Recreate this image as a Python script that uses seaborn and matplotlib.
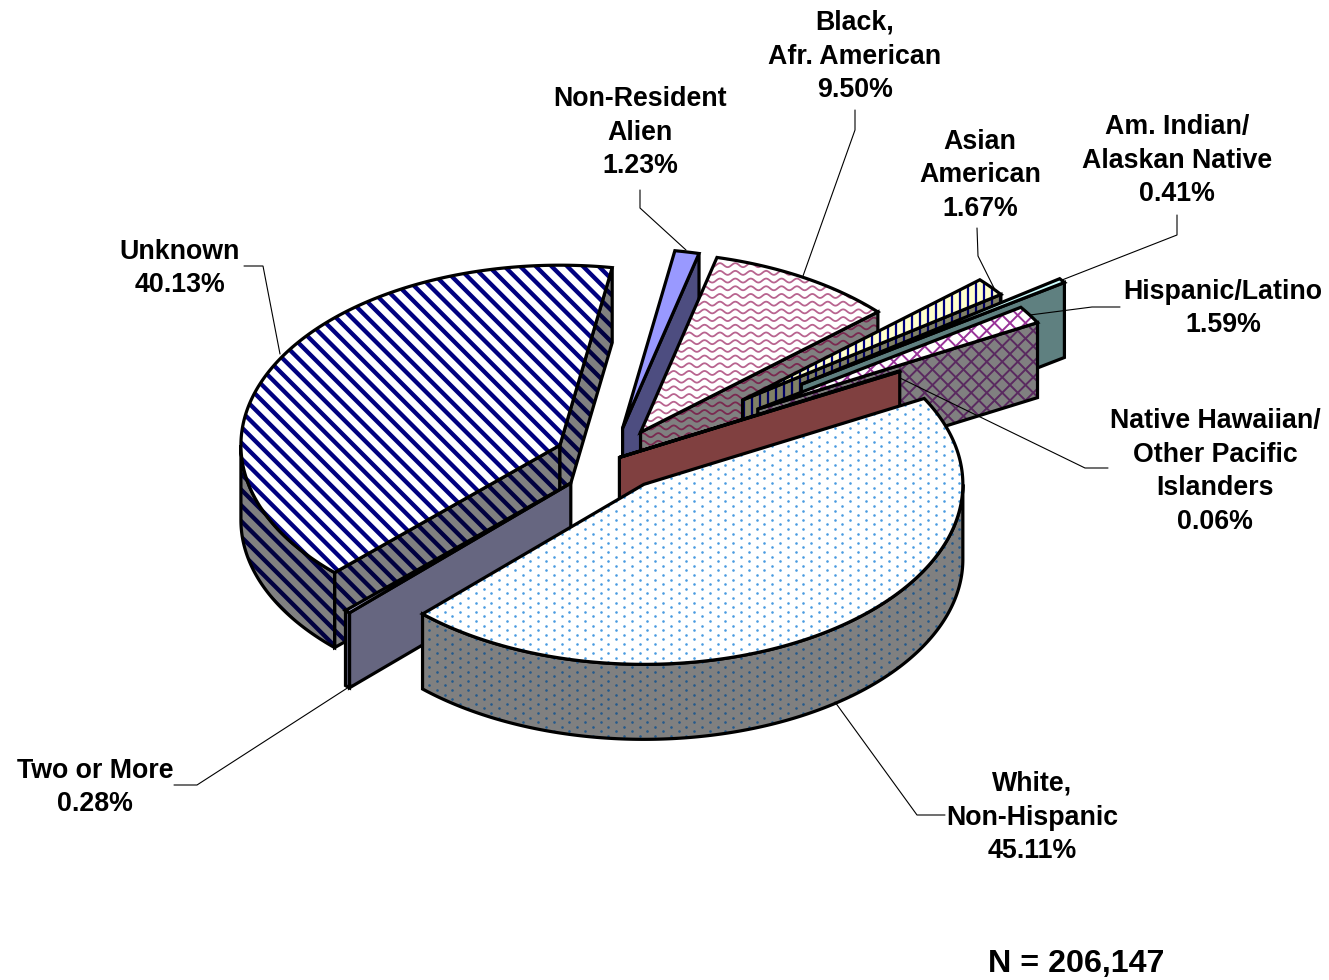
import numpy as np
import matplotlib
matplotlib.use("Agg")
import matplotlib.pyplot as plt
from matplotlib.collections import LineCollection
from matplotlib.patches import Polygon
import seaborn as sns

# ── Data ────────────────────────────────────────────────────────────────────
CATEGORIES = ["White", "Two or More", "Unknown", "Non-Resident", "Black",
              "Asian", "Am. Indian", "Hispanic", "Native Hawaiian"]
SHARES = [45.11, 0.28, 40.13, 1.23, 9.50, 1.67, 0.41, 1.59, 0.06]
SHARE_TOTAL = "N = 206,147"

# ── Style ───────────────────────────────────────────────────────────────────
sns.set_theme(style="white")
plt.rcParams["font.family"] = ["Liberation Sans", "DejaVu Sans"]

WIDTH, HEIGHT = 1329, 980
CENTER = (611, 460)
RX, RY, DEPTH = 319, 180, 75
START_ANGLE = 28.5
EXPLODE = [0.17, 0.18, 0.18, 0.18, 0.18, 0.53, 0.73, 0.54, 0.03]
DRAW_ORDER = ["Non-Resident", "Black", "Asian", "Am. Indian", "Hispanic",
              "Native Hawaiian", "Unknown", "Two or More", "White"]

# top colour, side colour, texture, texture colour, darker texture colour
LOOK = {
    "White":           ("#FFFFFF", "#808080", "dots",   "#4A9BE0", "#245A8C"),
    "Two or More":     ("#CCCCFF", "#666680", None,     None,      None),
    "Unknown":         ("#FFFFFF", "#808080", "stripe", "#000080", "#000040"),
    "Non-Resident":    ("#9999FF", "#4D4D80", None,     None,      None),
    "Black":           ("#FFFFFF", "#808080", "wave",   "#B8648F", "#7A2950"),
    "Asian":           ("#FFFFCC", "#808066", "vert",   "#000080", "#000060"),
    "Am. Indian":      ("#CCFFFF", "#5F8080", None,     None,      None),
    "Hispanic":        ("#FFFFFF", "#808080", "cross",  "#993399", "#5A2A60"),
    "Native Hawaiian": ("#FF8080", "#804040", None,     None,      None),
}

LABELS = [
    ("Black,\nAfr. American\n9.50%", 855, 56.5),
    ("Non-Resident\nAlien\n1.23%", 640, 132.5),
    ("Asian\nAmerican\n1.67%", 980, 175.5),
    ("Am. Indian/\nAlaskan Native\n0.41%", 1177, 160.5),
    ("Hispanic/Latino\n1.59%", 1223, 308.5),
    ("Native Hawaiian/\nOther Pacific\nIslanders\n0.06%", 1215, 471.5),
    ("White,\nNon-Hispanic\n45.11%", 1032, 817.5),
    ("Two or More\n0.28%", 95, 787.5),
    ("Unknown\n40.13%", 180, 268.5),
]

LEADERS = [
    [(244, 266), (263, 266), (280, 354)],
    [(640, 190), (640, 208), (686, 250)],
    [(855, 110), (855, 130), (803, 276)],
    [(977, 228), (978, 256), (994, 288)],
    [(1177, 215), (1177, 235), (1062, 280)],
    [(1120, 307), (1092, 307), (1030, 315)],
    [(1108, 468), (1085, 468), (900, 378)],
    [(945, 815), (917, 815), (835, 702)],
    [(174, 785), (197, 785), (352, 685)],
]

OUTLINE = 2.3


def arc(cx, cy, a0, a1, drop=0):
    t = np.radians(np.linspace(a0, a1, max(int(abs(a0 - a1)) * 2, 2)))
    return np.column_stack([cx + RX * np.cos(t), cy - RY * np.sin(t) + drop])


def add_texture(ax, patch, kind, color, z):
    x0, y0 = patch.get_xy().min(axis=0)
    x1, y1 = patch.get_xy().max(axis=0)
    if kind == "dots":
        xs, ys = [], []
        for i, y in enumerate(np.arange(0, HEIGHT, 4.6)):
            row = np.arange(7.8 * (i % 2), WIDTH, 15.6)
            xs.append(row)
            ys.append(np.full(row.shape, y))
        art = ax.scatter(np.concatenate(xs), np.concatenate(ys), s=3.5, color=color,
                         linewidths=0, zorder=z)
    elif kind == "stripe":
        segs = [[(x0 - 10, x0 - 10 + k), (x1 + 10, x1 + 10 + k)]
                for k in np.arange(-1400, 1000, 15.7)]
        art = ax.add_collection(LineCollection(segs, colors=color, linewidths=3.1, zorder=z))
    elif kind == "vert":
        segs = [[(x, y0), (x, y1)] for x in np.arange(0, WIDTH, 8.0)]
        art = ax.add_collection(LineCollection(segs, colors=color, linewidths=1.6, zorder=z))
    elif kind == "cross":
        segs = [[(x0, x0 + k), (x1, x1 + k)] for k in np.arange(-1400, 1000, 15.5)]
        segs += [[(x0, k - x0), (x1, k - x1)] for k in np.arange(0, 2400, 15.5)]
        art = ax.add_collection(LineCollection(segs, colors=color, linewidths=1.4, zorder=z))
    else:  # wave
        xs = np.arange(x0, x1, 1.0)
        segs = [np.column_stack([xs, y + 2.0 * np.sin(xs * 2 * np.pi / 15.4)])
                for y in np.arange(y0, y1, 7.7)]
        art = ax.add_collection(LineCollection(segs, colors=color, linewidths=1.3, zorder=z))
    art.set_clip_path(patch)


def add_face(ax, points, fill, kind, color, z):
    patch = Polygon(points, closed=True, facecolor=fill, edgecolor="none", zorder=z)
    ax.add_patch(patch)
    if kind is not None:
        add_texture(ax, patch, kind, color, z + 0.1)
    ax.add_patch(Polygon(points, closed=True, fill=False, edgecolor="black",
                         linewidth=OUTLINE, joinstyle="miter", zorder=z + 0.2))


def draw_slice(ax, name, a0, a1, explode, z):
    top, side, kind, col, dark = LOOK[name]
    mid = np.radians((a0 + a1) / 2)
    cx = CENTER[0] + explode * RX * np.cos(mid)
    cy = CENTER[1] - explode * RY * np.sin(mid)
    apex = np.array([cx, cy])

    # radial faces that look at the viewer
    for angle, visible in ((a0, np.cos(np.radians(a0)) < 0), (a1, np.cos(np.radians(a1)) > 0)):
        if visible:
            rim = arc(cx, cy, angle, angle)[0]
            pts = [apex, rim, rim + [0, DEPTH], apex + [0, DEPTH]]
            add_face(ax, pts, side, kind, dark, z)
            z += 1

    # outer wall, front half of the ellipse only
    lo, hi = max(a1, -180), min(a0, 0)
    if hi > lo:
        upper = arc(cx, cy, hi, lo)
        lower = arc(cx, cy, lo, hi, DEPTH)
        add_face(ax, np.vstack([upper, lower]), side, kind, dark, z)
        z += 1

    add_face(ax, np.vstack([[apex], arc(cx, cy, a0, a1)]), top, kind, col, z)
    return z + 1


# ── Plot ────────────────────────────────────────────────────────────────────
fig, ax = plt.subplots(figsize=(WIDTH / 100, HEIGHT / 100), dpi=100)
fig.subplots_adjust(0, 0, 1, 1)
ax.set_xlim(0, WIDTH)
ax.set_ylim(HEIGHT, 0)
ax.axis("off")

sweep = np.array(SHARES) / sum(SHARES) * 360
ends = START_ANGLE - np.cumsum(sweep)
starts = np.concatenate([[START_ANGLE], ends[:-1]])

z = 2
for name in DRAW_ORDER:
    i = CATEGORIES.index(name)
    z = draw_slice(ax, name, starts[i], ends[i], EXPLODE[i], z)

for pts in LEADERS:
    xs, ys = zip(*pts)
    ax.plot(xs, ys, color="black", lw=0.8, zorder=z, solid_joinstyle="miter")

for text, x, y in LABELS:
    ax.text(x, y, text, ha="center", va="center", fontsize=19.3, fontweight="bold",
            color="black", linespacing=1.38, zorder=z + 1)
ax.text(1076, 964, SHARE_TOTAL, ha="center", va="center", fontsize=23.2,
        fontweight="bold", color="black", zorder=z + 1)

fig.savefig("out.png", dpi=100)
